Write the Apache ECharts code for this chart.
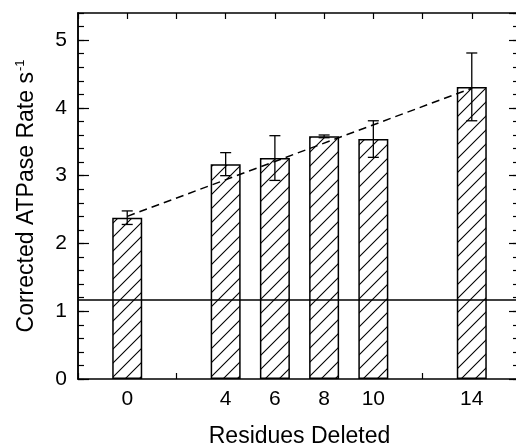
<!DOCTYPE html>
<html>
<head>
<meta charset="utf-8">
<script src="https://cdn.jsdelivr.net/npm/echarts@6/dist/echarts.min.js"></script>
<style>
  html, body { margin: 0; padding: 0; background: #fff; }
  #chart { width: 516px; height: 448px; }
</style>
</head>
<body>
<div id="chart"></div>
<script>
// data
var residuesDeleted = [0, 4, 6, 8, 10, 14];
var atpaseRates = [2.38, 3.17, 3.26, 3.58, 3.54, 4.31];
var rateErrors = [0.10, 0.17, 0.33, 0.02, 0.27, 0.50];
var trendX = [0, 14];
var trendY = [2.40, 4.29];
var baselineRate = [1.17];
var xTickLabels = [0, 4, 6, 8, 10, 14];

var FONT = "'Liberation Sans', Arial, sans-serif";

// hatch pattern for the bars
function makeHatch() {
  var s = 14;
  var c = document.createElement('canvas');
  c.width = s; c.height = s;
  var g = c.getContext('2d');
  g.fillStyle = '#fff';
  g.fillRect(0, 0, s, s);
  g.strokeStyle = '#000';
  g.lineWidth = 1.1;
  g.beginPath();
  g.moveTo(-2, s + 2); g.lineTo(s + 2, -2);
  g.moveTo(-2, 2); g.lineTo(2, -2);
  g.moveTo(s - 2, s + 2); g.lineTo(s + 2, s - 2);
  g.stroke();
  return c;
}

var barData = residuesDeleted.map(function (x, i) { return [x, atpaseRates[i]]; });
var errData = residuesDeleted.map(function (x, i) { return [x, atpaseRates[i], rateErrors[i]]; });
var trendData = trendX.map(function (x, i) { return [x, trendY[i]]; });

function axisLine(show) {
  return { show: show, onZero: false, lineStyle: { color: '#000', width: 1.5 } };
}

function xAxisCfg(pos, showLabels) {
  return {
    type: 'value', position: pos, min: -2, max: 16, interval: 2,
    axisLine: axisLine(true),
    axisTick: { show: true, inside: true, length: 6, lineStyle: { color: '#000', width: 1.2 } },
    axisLabel: {
      show: showLabels, margin: 10, color: '#000', fontSize: 21, fontFamily: FONT,
      formatter: function (v) { return xTickLabels.indexOf(v) >= 0 ? String(v) : ''; }
    },
    splitLine: { show: false },
    name: showLabels ? 'Residues Deleted' : '',
    nameLocation: 'middle', nameGap: 46,
    nameTextStyle: { color: '#000', fontSize: 23, fontFamily: FONT }
  };
}

function yAxisCfg(pos, interval, len, labels, name) {
  return {
    type: 'value', position: pos, min: 0, max: 5.4, interval: interval,
    axisLine: axisLine(true),
    axisTick: { show: true, inside: true, length: len, lineStyle: { color: '#000', width: 1.2 } },
    axisLabel: {
      show: labels, margin: 11, color: '#000', fontSize: 21, fontFamily: FONT,
      showMaxLabel: false,
      formatter: function (v) { return Math.abs(v - Math.round(v)) < 1e-6 ? String(Math.round(v)) : ''; }
    },
    splitLine: { show: false },
    name: name || '',
    nameLocation: 'middle', nameGap: 38,
    nameTextStyle: {
      color: '#000', fontSize: 23, fontFamily: FONT,
      rich: {
        m: { fontSize: 23, fontFamily: FONT, color: '#000' },
        sup: { fontSize: 13, fontFamily: FONT, color: '#000', padding: [0, 0, 13, 1] }
      }
    }
  };
}

var chart = echarts.init(document.getElementById('chart'), null, { renderer: 'canvas' });

chart.setOption({
  backgroundColor: '#fff',
  animation: false,
  grid: { left: 78, top: 13, bottom: 69, right: -5, containLabel: false, outerBoundsMode: 'none' },
  xAxis: [xAxisCfg('bottom', true), xAxisCfg('top', false)],
  yAxis: [
    yAxisCfg('left', 1, 11, true, '{m|Corrected ATPase Rate s}{sup|-1}'),
    yAxisCfg('left', 0.2, 6, false),
    yAxisCfg('right', 1, 12, false),
    yAxisCfg('right', 0.2, 8, false)
  ],
  series: [
    {
      type: 'bar',
      data: barData,
      barWidth: 30,
      itemStyle: {
        color: { image: makeHatch(), repeat: 'repeat' },
        borderColor: '#000',
        borderWidth: 1.5
      },
      markLine: {
        silent: true,
        symbol: ['none', 'none'],
        label: { show: false },
        lineStyle: { color: '#000', width: 1.5, type: 'solid' },
        data: baselineRate.map(function (v) { return { yAxis: v }; })
      },
      z: 2
    },
    {
      type: 'line',
      data: trendData,
      showSymbol: false,
      symbol: 'none',
      lineStyle: { color: '#000', width: 1.5, type: [8, 5] },
      z: 4
    },
    {
      type: 'custom',
      data: errData,
      z: 5,
      renderItem: function (params, api) {
        var x = api.value(0), y = api.value(1), e = api.value(2);
        var top = api.coord([x, y + e]);
        var bot = api.coord([x, y - e]);
        var hw = 5.5;
        var st = { stroke: '#000', lineWidth: 1.3 };
        return {
          type: 'group',
          children: [
            { type: 'line', shape: { x1: top[0], y1: top[1], x2: bot[0], y2: bot[1] }, style: st },
            { type: 'line', shape: { x1: top[0] - hw, y1: top[1], x2: top[0] + hw, y2: top[1] }, style: st },
            { type: 'line', shape: { x1: bot[0] - hw, y1: bot[1], x2: bot[0] + hw, y2: bot[1] }, style: st }
          ]
        };
      }
    }
  ]
});
</script>
</body>
</html>
